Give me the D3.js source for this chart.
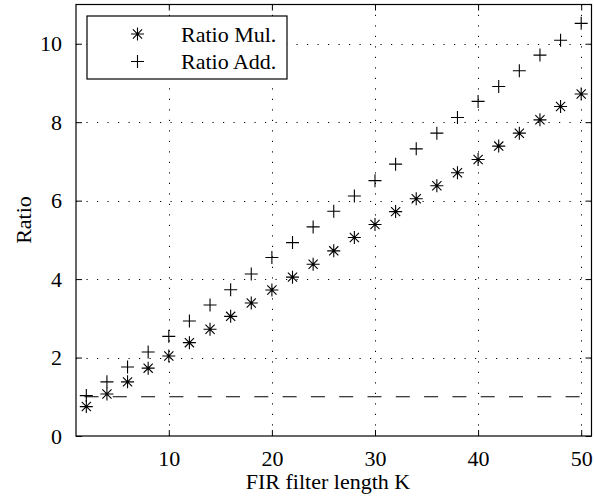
<!DOCTYPE html>
<html>
<head>
<meta charset="utf-8">
<script src="https://cdn.jsdelivr.net/npm/d3@7"></script>
<style>
  html, body { margin: 0; padding: 0; background: #fff; }
  svg text { font-family: "Liberation Serif", "Times New Roman", Times, serif; fill: #000; }
</style>
</head>
<body>
<svg id="chart" width="594" height="503"></svg>
<script>
// Filter lengths K and the two ratio series
const filterLength = [2, 4, 6, 8, 10, 12, 14, 16, 18, 20, 22, 24, 26, 28, 30, 32, 34, 36, 38, 40, 42, 44, 46, 48, 50];
const ratioMul = [0.75, 1.07, 1.38, 1.73, 2.04, 2.38, 2.72, 3.05, 3.39, 3.72, 4.05, 4.38, 4.72, 5.06, 5.39, 5.72, 6.05, 6.38, 6.71, 7.05, 7.39, 7.72, 8.06, 8.40, 8.72];
const ratioAdd = [1.03, 1.38, 1.76, 2.14, 2.54, 2.93, 3.34, 3.73, 4.13, 4.55, 4.93, 5.33, 5.73, 6.12, 6.51, 6.93, 7.32, 7.72, 8.12, 8.53, 8.91, 9.31, 9.71, 10.09, 10.52];
const xTicks = [10, 20, 30, 40, 50];
const yTicks = [0, 2, 4, 6, 8, 10];
const referenceLevel = 1;
const seriesNames = ["Ratio Mul.", "Ratio Add."];

const svg = d3.select("#chart");
const plot = { left: 76, right: 591.5, top: 4.5, bottom: 436 };

const x = d3.scaleLinear().domain([1, 51]).range([plot.left, plot.right]);
const y = d3.scaleLinear().domain([0, 11]).range([plot.bottom, plot.top]);

svg.append("rect").attr("width", 594).attr("height", 503).attr("fill", "#fff");

// Dotted grid
const grid = svg.append("g").attr("stroke", "#000").attr("stroke-width", 1)
  .attr("stroke-dasharray", "1.2,9.3").attr("fill", "none");
grid.selectAll(".gx").data(xTicks).join("line")
  .attr("x1", d => Math.round(x(d)) + 0.5).attr("x2", d => Math.round(x(d)) + 0.5)
  .attr("y1", plot.bottom).attr("y2", plot.top);
grid.selectAll(".gy").data(yTicks.filter(d => d > 0)).join("line")
  .attr("y1", d => Math.round(y(d)) + 0.5).attr("y2", d => Math.round(y(d)) + 0.5)
  .attr("x1", plot.left).attr("x2", plot.right);

// Dashed reference line at ratio = 1
svg.append("line")
  .attr("x1", x(1)).attr("x2", x(51))
  .attr("y1", y(referenceLevel)).attr("y2", y(referenceLevel))
  .attr("stroke", "#000").attr("stroke-width", 1.1)
  .attr("stroke-dasharray", "14,14.3").attr("stroke-dashoffset", 19.8);

// Marker shapes
const r = 6.5, rd = 4.6;
function starPath(cx, cy) {
  return `M${cx - r},${cy}H${cx + r}M${cx},${cy - r}V${cy + r}` +
         `M${cx - rd},${cy - rd}L${cx + rd},${cy + rd}M${cx - rd},${cy + rd}L${cx + rd},${cy - rd}`;
}
function plusPath(cx, cy) {
  return `M${cx - r},${cy}H${cx + r}M${cx},${cy - r}V${cy + r}`;
}

const marks = svg.append("g").attr("stroke", "#000").attr("stroke-width", 1.1).attr("fill", "none");
marks.selectAll(".mul").data(filterLength.map((k, i) => [k, ratioMul[i]])).join("path")
  .attr("d", d => starPath(x(d[0]), y(d[1])));
marks.selectAll(".add").data(filterLength.map((k, i) => [k, ratioAdd[i]])).join("path")
  .attr("d", d => plusPath(x(d[0]), y(d[1])));

// Axes box with inward ticks on all four sides
const tickLen = 6;
const axisG = svg.append("g");
axisG.append("g").attr("transform", `translate(0,${plot.bottom})`)
  .call(d3.axisBottom(x).tickValues(xTicks).tickSizeInner(-tickLen).tickSizeOuter(0).tickPadding(14));
axisG.append("g").attr("transform", `translate(0,${plot.top})`)
  .call(d3.axisTop(x).tickValues(xTicks).tickSizeInner(-tickLen).tickSizeOuter(0).tickFormat(""));
axisG.append("g").attr("transform", `translate(${plot.left},0)`)
  .call(d3.axisLeft(y).tickValues(yTicks).tickSizeInner(-tickLen).tickSizeOuter(0).tickPadding(14));
axisG.append("g").attr("transform", `translate(${plot.right},0)`)
  .call(d3.axisRight(y).tickValues(yTicks).tickSizeInner(-tickLen).tickSizeOuter(0).tickFormat(""));
axisG.selectAll(".domain").remove();
axisG.selectAll(".tick line").attr("stroke", "#000").attr("stroke-width", 1);
axisG.selectAll(".tick text").attr("font-size", 22).attr("font-family", "Liberation Serif");

svg.append("rect")
  .attr("x", plot.left).attr("y", plot.top)
  .attr("width", plot.right - plot.left).attr("height", plot.bottom - plot.top)
  .attr("fill", "none").attr("stroke", "#000").attr("stroke-width", 1.2);

// Axis titles
svg.append("text").attr("x", 328).attr("y", 489).attr("text-anchor", "middle")
  .attr("font-size", 22).text("FIR filter length K");
svg.append("text").attr("transform", "translate(31,220) rotate(-90)")
  .attr("text-anchor", "middle").attr("font-size", 22).text("Ratio");

// Legend
const legend = svg.append("g");
legend.append("rect").attr("x", 87).attr("y", 16).attr("width", 200).attr("height", 63)
  .attr("fill", "#fff").attr("stroke", "#000").attr("stroke-width", 1.2);
const rows = [34, 61.5];
legend.append("path").attr("d", starPath(137.5, rows[0]))
  .attr("stroke", "#000").attr("stroke-width", 1.1).attr("fill", "none");
legend.append("path").attr("d", plusPath(137.5, rows[1]))
  .attr("stroke", "#000").attr("stroke-width", 1.1).attr("fill", "none");
legend.selectAll(".lt").data(seriesNames).join("text")
  .attr("x", 181).attr("y", (d, i) => rows[i] + 7.5)
  .attr("font-size", 22).text(d => d);
</script>
</body>
</html>
